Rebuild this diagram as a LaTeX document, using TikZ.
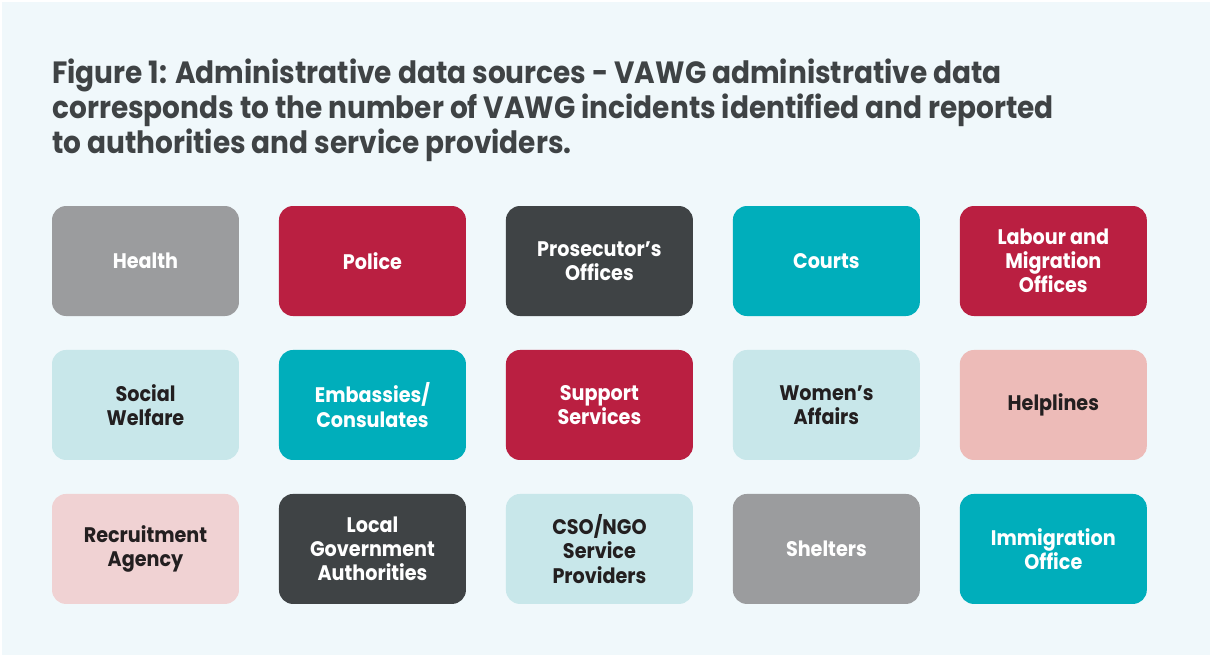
\documentclass[tikz,border=0pt]{standalone}
\usepackage{fontspec}
\setmainfont{Poppins}[FakeStretch=0.91]
\usetikzlibrary{positioning}
\definecolor{vawgBack}{HTML}{F0F8FB}
\definecolor{vawgTitle}{HTML}{3F4345}
\definecolor{vawgGray}{HTML}{9B9C9E}
\definecolor{vawgRed}{HTML}{BA1F41}
\definecolor{vawgDark}{HTML}{3F4345}
\definecolor{vawgTeal}{HTML}{00AEBB}
\definecolor{vawgLightTeal}{HTML}{C8E7EA}
\definecolor{vawgPink}{HTML}{EDBBB8}
\definecolor{vawgLightPink}{HTML}{F0D2D3}
\definecolor{vawgText}{HTML}{231F20}

\begin{document}
\begin{tikzpicture}[
        x=0.02cm, y=0.02cm,
        node distance=0.68cm and 0.8cm,
        box/.style={rectangle, rounded corners=0.28cm, minimum width=3.74cm, minimum height=2.2cm, outer sep=0pt, inner sep=2pt, align=center, font=\fontsize{12}{13.8}\selectfont\bfseries, text=white},
        lightbox/.style={box, text=vawgText}
    ]
        % Background
        \fill[white] (0,0) rectangle (1212,-657);
        \fill[vawgBack] (2,-2) rectangle (1210,-655);

        % Title
        \node[anchor=north west, inner sep=0pt, align=left, text=vawgTitle, font=\fontsize{17.5}{18.5}\selectfont\bfseries] (title) at (52,-59)
            {Figure 1: Administrative data sources - VAWG administrative data\\
             corresponds to the number of VAWG incidents identified and reported\\
             to authorities and service providers.};

        % First row
        \node[box, fill=vawgGray] (health) at (145.5,-261) {Health};
        \node[box, fill=vawgRed, right=of health] (police) {Police};
        \node[box, fill=vawgDark, right=of police] (prosecutor) {Prosecutor’s\\Offices};
        \node[box, fill=vawgTeal, right=of prosecutor] (courts) {Courts};
        \node[box, fill=vawgRed, right=of courts] (labour) {Labour and\\Migration\\Offices};

        % Second row
        \node[lightbox, fill=vawgLightTeal, below=of health] (welfare) {Social\\Welfare};
        \node[box, fill=vawgTeal, right=of welfare] (embassies) {Embassies/\\Consulates};
        \node[box, fill=vawgRed, right=of embassies] (support) {Support\\Services};
        \node[lightbox, fill=vawgLightTeal, right=of support] (women) {Women’s\\Affairs};
        \node[lightbox, fill=vawgPink, right=of women] (helplines) {Helplines};

        % Third row
        \node[lightbox, fill=vawgLightPink, below=of welfare] (recruitment) {Recruitment\\Agency};
        \node[box, fill=vawgDark, right=of recruitment] (localgov) {Local\\Government\\Authorities};
        \node[lightbox, fill=vawgLightTeal, right=of localgov] (cso) {CSO/NGO\\Service\\Providers};
        \node[box, fill=vawgGray, right=of cso] (shelters) {Shelters};
        \node[box, fill=vawgTeal, right=of shelters] (immigration) {Immigration\\Office};
    \end{tikzpicture}
\end{document}
